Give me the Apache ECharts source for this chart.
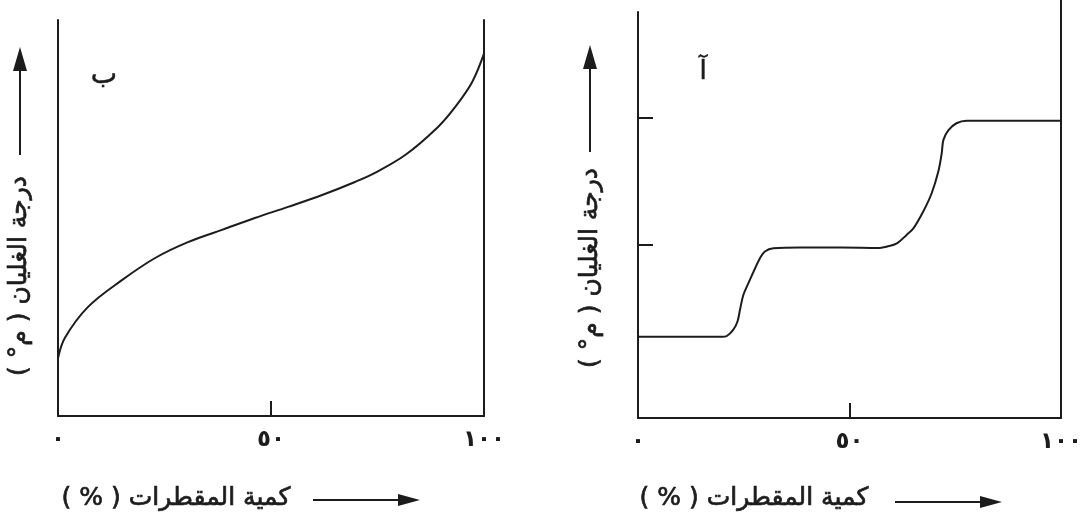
<!DOCTYPE html>
<html>
<head>
<meta charset="utf-8">
<script src="https://cdn.jsdelivr.net/npm/echarts@6/dist/echarts.min.js"></script>
<style>
html,body{margin:0;padding:0;background:#fff;}
#c{width:1086px;height:517px;}
</style>
</head>
<body>
<div id="c"></div>
<script>
// ---- data ----
const xTickValues = [0, 50, 100];
const xTickLabels = ['٠', '٥٠', '١٠٠'];
const yTickValuesA = [42.6, 73.9];

// panel ب (smooth curve)
const curveBX = [0, 1.6, 7.0, 15.0, 22.8, 30.5, 38.5, 46.2, 54.0, 62.0, 69.7, 74.4, 81.5, 89.2, 93.2, 97.2, 100];
const curveBY = [14.6, 19.7, 27.5, 34.3, 39.9, 43.9, 47.0, 50.0, 52.8, 55.8, 59.1, 61.4, 65.9, 73.0, 78.0, 84.3, 91.5];

// panel آ (stepwise curve)
const curveAX = [0, 10, 19.9, 21.0, 22.5, 23.5, 24.1, 24.9, 26.1, 27.7, 28.8, 30.0, 32.0, 38.3, 48, 57.2, 58.8, 61.2, 63.5, 65.1, 67.4, 69.4, 71.0, 71.8, 72.2, 73.4, 75.3, 77.7, 83.2, 92, 100];
const curveAY = [20.0, 20.0, 20.0, 20.2, 21.7, 23.7, 26.6, 30.3, 33.2, 36.9, 39.3, 41.0, 41.8, 42.0, 42.0, 41.9, 42.2, 43.0, 45.1, 46.7, 50.8, 55.3, 60.7, 65.2, 68.5, 70.9, 72.6, 73.2, 73.2, 73.2, 73.2];

const xAxisTitle = 'كمية المقطرات ( % )';
const yAxisTitle = 'درجة الغليان ( م° )';
const panelLabels = ['ب', 'آ'];

// ---- chart ----
const INK = '#1c1c1c';
const AR_FONT = '"DejaVu Sans", "Noto Sans", sans-serif';
const RLM = '\u200F';
const zip = (a, b) => a.map((v, i) => [v, b[i]]);
const labelFmt = v => {
  const i = xTickValues.indexOf(v);
  return i >= 0 ? xTickLabels[i] : '';
};

function xAxisFor(gridIndex, show) {
  return {
    type: 'value', gridIndex, min: 0, max: 100, interval: 50, show,
    axisLine: { show: true, onZero: false, lineStyle: { color: INK, width: 2 } },
    axisTick: { show: true, inside: true, length: 15, lineStyle: { color: INK, width: 2 } },
    axisLabel: { show: true, formatter: labelFmt, margin: 13, color: INK,
      fontSize: 23, fontWeight: 'bold', fontFamily: AR_FONT, showMinLabel: true, showMaxLabel: true },
    splitLine: { show: false }
  };
}
function plainY(gridIndex, position, ticks) {
  return {
    type: 'value', gridIndex, min: 0, max: 100, position,
    axisLine: { show: true, onZero: false, lineStyle: { color: INK, width: 2 } },
    axisTick: ticks ? { show: true, inside: true, length: 15, customValues: ticks, lineStyle: { color: INK, width: 2 } } : { show: false },
    axisLabel: { show: false },
    splitLine: { show: false }
  };
}

function arrowH(x1, x2, y) {
  return [
    { type: 'line', shape: { x1: x1, y1: y, x2: x2 - 18, y2: y }, style: { stroke: INK, lineWidth: 2 } },
    { type: 'polygon', shape: { points: [[x2, y], [x2 - 22, y - 6], [x2 - 22, y + 6]] }, style: { fill: INK } }
  ];
}
function arrowV(x, y1, y2) {
  return [
    { type: 'line', shape: { x1: x, y1: y1, x2: x, y2: y2 + 18 }, style: { stroke: INK, lineWidth: 2 } },
    { type: 'polygon', shape: { points: [[x, y2], [x - 7, y2 + 24], [x + 7, y2 + 24]] }, style: { fill: INK } }
  ];
}
function textAt(x, y, str, size, rot, strokeW) {
  return {
    type: 'text', x: x, y: y, rotation: rot || 0,
    style: { text: RLM + str + RLM, fill: INK, stroke: INK, lineWidth: strokeW,
      font: 'normal ' + size + 'px ' + AR_FONT, align: 'center', verticalAlign: 'middle' }
  };
}

const chart = echarts.init(document.getElementById('c'), null, { renderer: 'canvas' });
chart.setOption({
  animation: false,
  backgroundColor: '#ffffff',
  grid: [
    { left: 58, right: 602, top: 20, bottom: 101 },
    { left: 638, right: 25, top: 12, bottom: 99 },
    { left: 638, right: 25, top: 0, bottom: 99 }
  ],
  xAxis: [
    xAxisFor(0, true),
    xAxisFor(1, true),
    xAxisFor(2, false)
  ],
  yAxis: [
    plainY(0, 'left', null),
    plainY(0, 'right', null),
    plainY(1, 'left', yTickValuesA),
    plainY(2, 'right', null)
  ],
  series: [
    { type: 'line', xAxisIndex: 0, yAxisIndex: 0, data: zip(curveBX, curveBY), smooth: 0.35,
      showSymbol: false, lineStyle: { color: INK, width: 2 } },
    { type: 'line', xAxisIndex: 1, yAxisIndex: 2, data: zip(curveAX, curveAY), smooth: 0.35,
      showSymbol: false, lineStyle: { color: INK, width: 2 } }
  ],
  graphic: [].concat(
    [textAt(176, 498, xAxisTitle, 25, 0, 0.7)], arrowH(313, 420, 500),
    [textAt(754, 498, xAxisTitle, 25, 0, 0.7)], arrowH(895, 1002, 502),
    [textAt(19, 276, yAxisTitle, 25, Math.PI / 2, 0.7)], arrowV(20, 155, 47),
    [textAt(590, 268, yAxisTitle, 25, Math.PI / 2, 0.7)], arrowV(590, 152, 45),
    [textAt(104, 76, panelLabels[0], 28, 0, 0.5)],
    [textAt(703, 72, panelLabels[1], 26, 0, 0.5)]
  )
});
</script>
</body>
</html>
